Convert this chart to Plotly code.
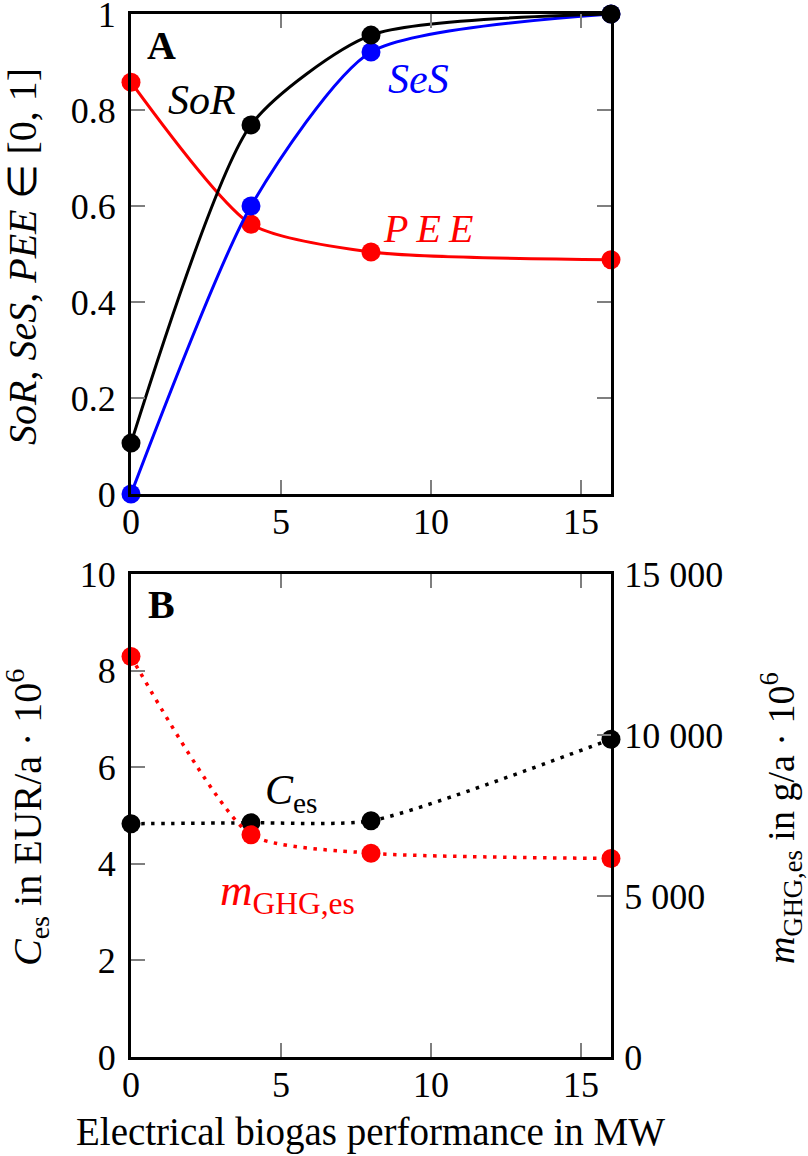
import plotly.graph_objects as go

# ---- data ----
power_mw = [0, 4, 8, 16]
sor = [0.106, 0.769, 0.956, 1.0]
ses = [0.0, 0.60, 0.921, 1.0]
pee = [0.858, 0.562, 0.504, 0.488]
c_es = [4.83, 4.85, 4.89, 6.58]
m_ghg = [12435, 6900, 6330, 6165]

x_ticks = [0, 5, 10, 15]
y1_ticks = [0, 0.2, 0.4, 0.6, 0.8, 1]
y2_ticks = [0, 2, 4, 6, 8, 10]
y3_ticks = [0, 5000, 10000, 15000]
y3_ticktext = ["0", "5 000", "10 000", "15 000"]

FONT = "Liberation Serif"
W, H = 808, 1156
BLACK, BLUE, RED = "#000000", "#0000ff", "#ff0000"
TICKC = "#7f7f7f"
TS = 36   # tick label size
LS = 40   # label / title size

fig = go.Figure()

def solid(x, y, color, xa, ya):
    fig.add_trace(go.Scatter(
        x=x, y=y, mode="lines+markers", xaxis=xa, yaxis=ya,
        line=dict(color=color, width=3, shape="spline", smoothing=0.65),
        marker=dict(color=color, size=19), cliponaxis=False, showlegend=False))

def dotted(x, y, color, xa, ya):
    fig.add_trace(go.Scatter(
        x=x, y=y, mode="lines+markers", xaxis=xa, yaxis=ya,
        line=dict(color=color, width=3.5, shape="spline", smoothing=0.6, dash="3.5px,6.5px"),
        marker=dict(color=color, size=19), cliponaxis=False, showlegend=False))

solid(power_mw, pee, RED, "x", "y")
solid(power_mw, ses, BLUE, "x", "y")
solid(power_mw, sor, BLACK, "x", "y")
dotted(power_mw, c_es, BLACK, "x2", "y2")
dotted(power_mw, m_ghg, RED, "x2", "y3")

xdom = [131 / W, 611 / W]
top_dom = [1 - 494 / H, 1 - 14 / H]
bot_dom = [1 - 1057 / H, 1 - 574 / H]

tickfont = dict(family=FONT, size=TS, color="black")
common = dict(ticks="inside", ticklen=14, tickwidth=2, tickcolor=TICKC,
              showline=True, linecolor="black", linewidth=3, automargin=False,
              ticklabeloverflow="allow",
              showgrid=False, zeroline=False, tickfont=tickfont)

fig.update_layout(
    template="none",
    width=W, height=H,
    margin=dict(l=0, r=0, t=0, b=0),
    paper_bgcolor="white", plot_bgcolor="white",
    font=dict(family=FONT, size=TS, color="black"),
    xaxis=dict(domain=xdom, range=[0, 16], anchor="y", tickvals=x_ticks,
               mirror="ticks", ticklabelstandoff=-6, **common),
    yaxis=dict(domain=top_dom, range=[0, 1], anchor="x", tickvals=y1_ticks,
               mirror="ticks", ticklabelstandoff=5, **common),
    xaxis2=dict(domain=xdom, range=[0, 16], anchor="y2", tickvals=x_ticks,
                mirror="ticks", ticklabelstandoff=-6, **common),
    yaxis2=dict(domain=bot_dom, range=[0, 10], anchor="x2", tickvals=y2_ticks,
                mirror=False, ticklabelstandoff=5, **common),
    yaxis3=dict(domain=bot_dom, range=[0, 15000], anchor="x2", overlaying="y2",
                side="right", tickvals=y3_ticks, ticktext=y3_ticktext,
                ticklabelstandoff=3, **common),
)

def ann(text, x, y, color="black", size=LS, xref="x", yref="y", angle=0):
    fig.add_annotation(text=text, x=x, y=y, xref=xref, yref=yref, showarrow=False,
                       xanchor="center", yanchor="middle", textangle=angle,
                       font=dict(family=FONT, size=size, color=color))

# in-panel labels
ann("<b>A</b>", 1.03, 0.935)
ann("<i>SoR</i>", 2.37, 0.82, size=42)
ann("<i>SeS</i>", 9.57, 0.865, BLUE, size=42)
ann("<i>P\u2009E\u2009E</i>", 9.9, 0.554, RED)
ann("<b>B</b>", 1.03, 9.36, xref="x2", yref="y2")
ann("<i>C</i><sub>es</sub>", 5.35, 5.47, size=42, xref="x2", yref="y2")
ann("<i>m</i><sub>GHG,es</sub>", 5.2, 3.4, RED, size=45, xref="x2", yref="y2")

# axis titles
ann("<i>SoR</i>, <i>SeS</i>, <i>PEE</i> ∈ [0, 1]", 22 / W, 1 - 257 / H, xref="paper", yref="paper", angle=-90)
ann("<i>C</i><sub>es</sub> in EUR/a · 10<sup>6</sup>", 27 / W, 1 - 818 / H, xref="paper", yref="paper", angle=-90)
ann("<i>m</i><sub>GHG,es</sub> in g/a · 10<sup>6</sup>", 781 / W, 1 - 818 / H, size=38, xref="paper", yref="paper", angle=-90)
ann("Electrical biogas performance in MW", 370 / W, 1 - 1132 / H, size=39, xref="paper", yref="paper")

fig.write_html("out.html", config={"displayModeBar": False},
               post_script="document.body.style.margin='0';document.body.style.overflow='hidden';")
